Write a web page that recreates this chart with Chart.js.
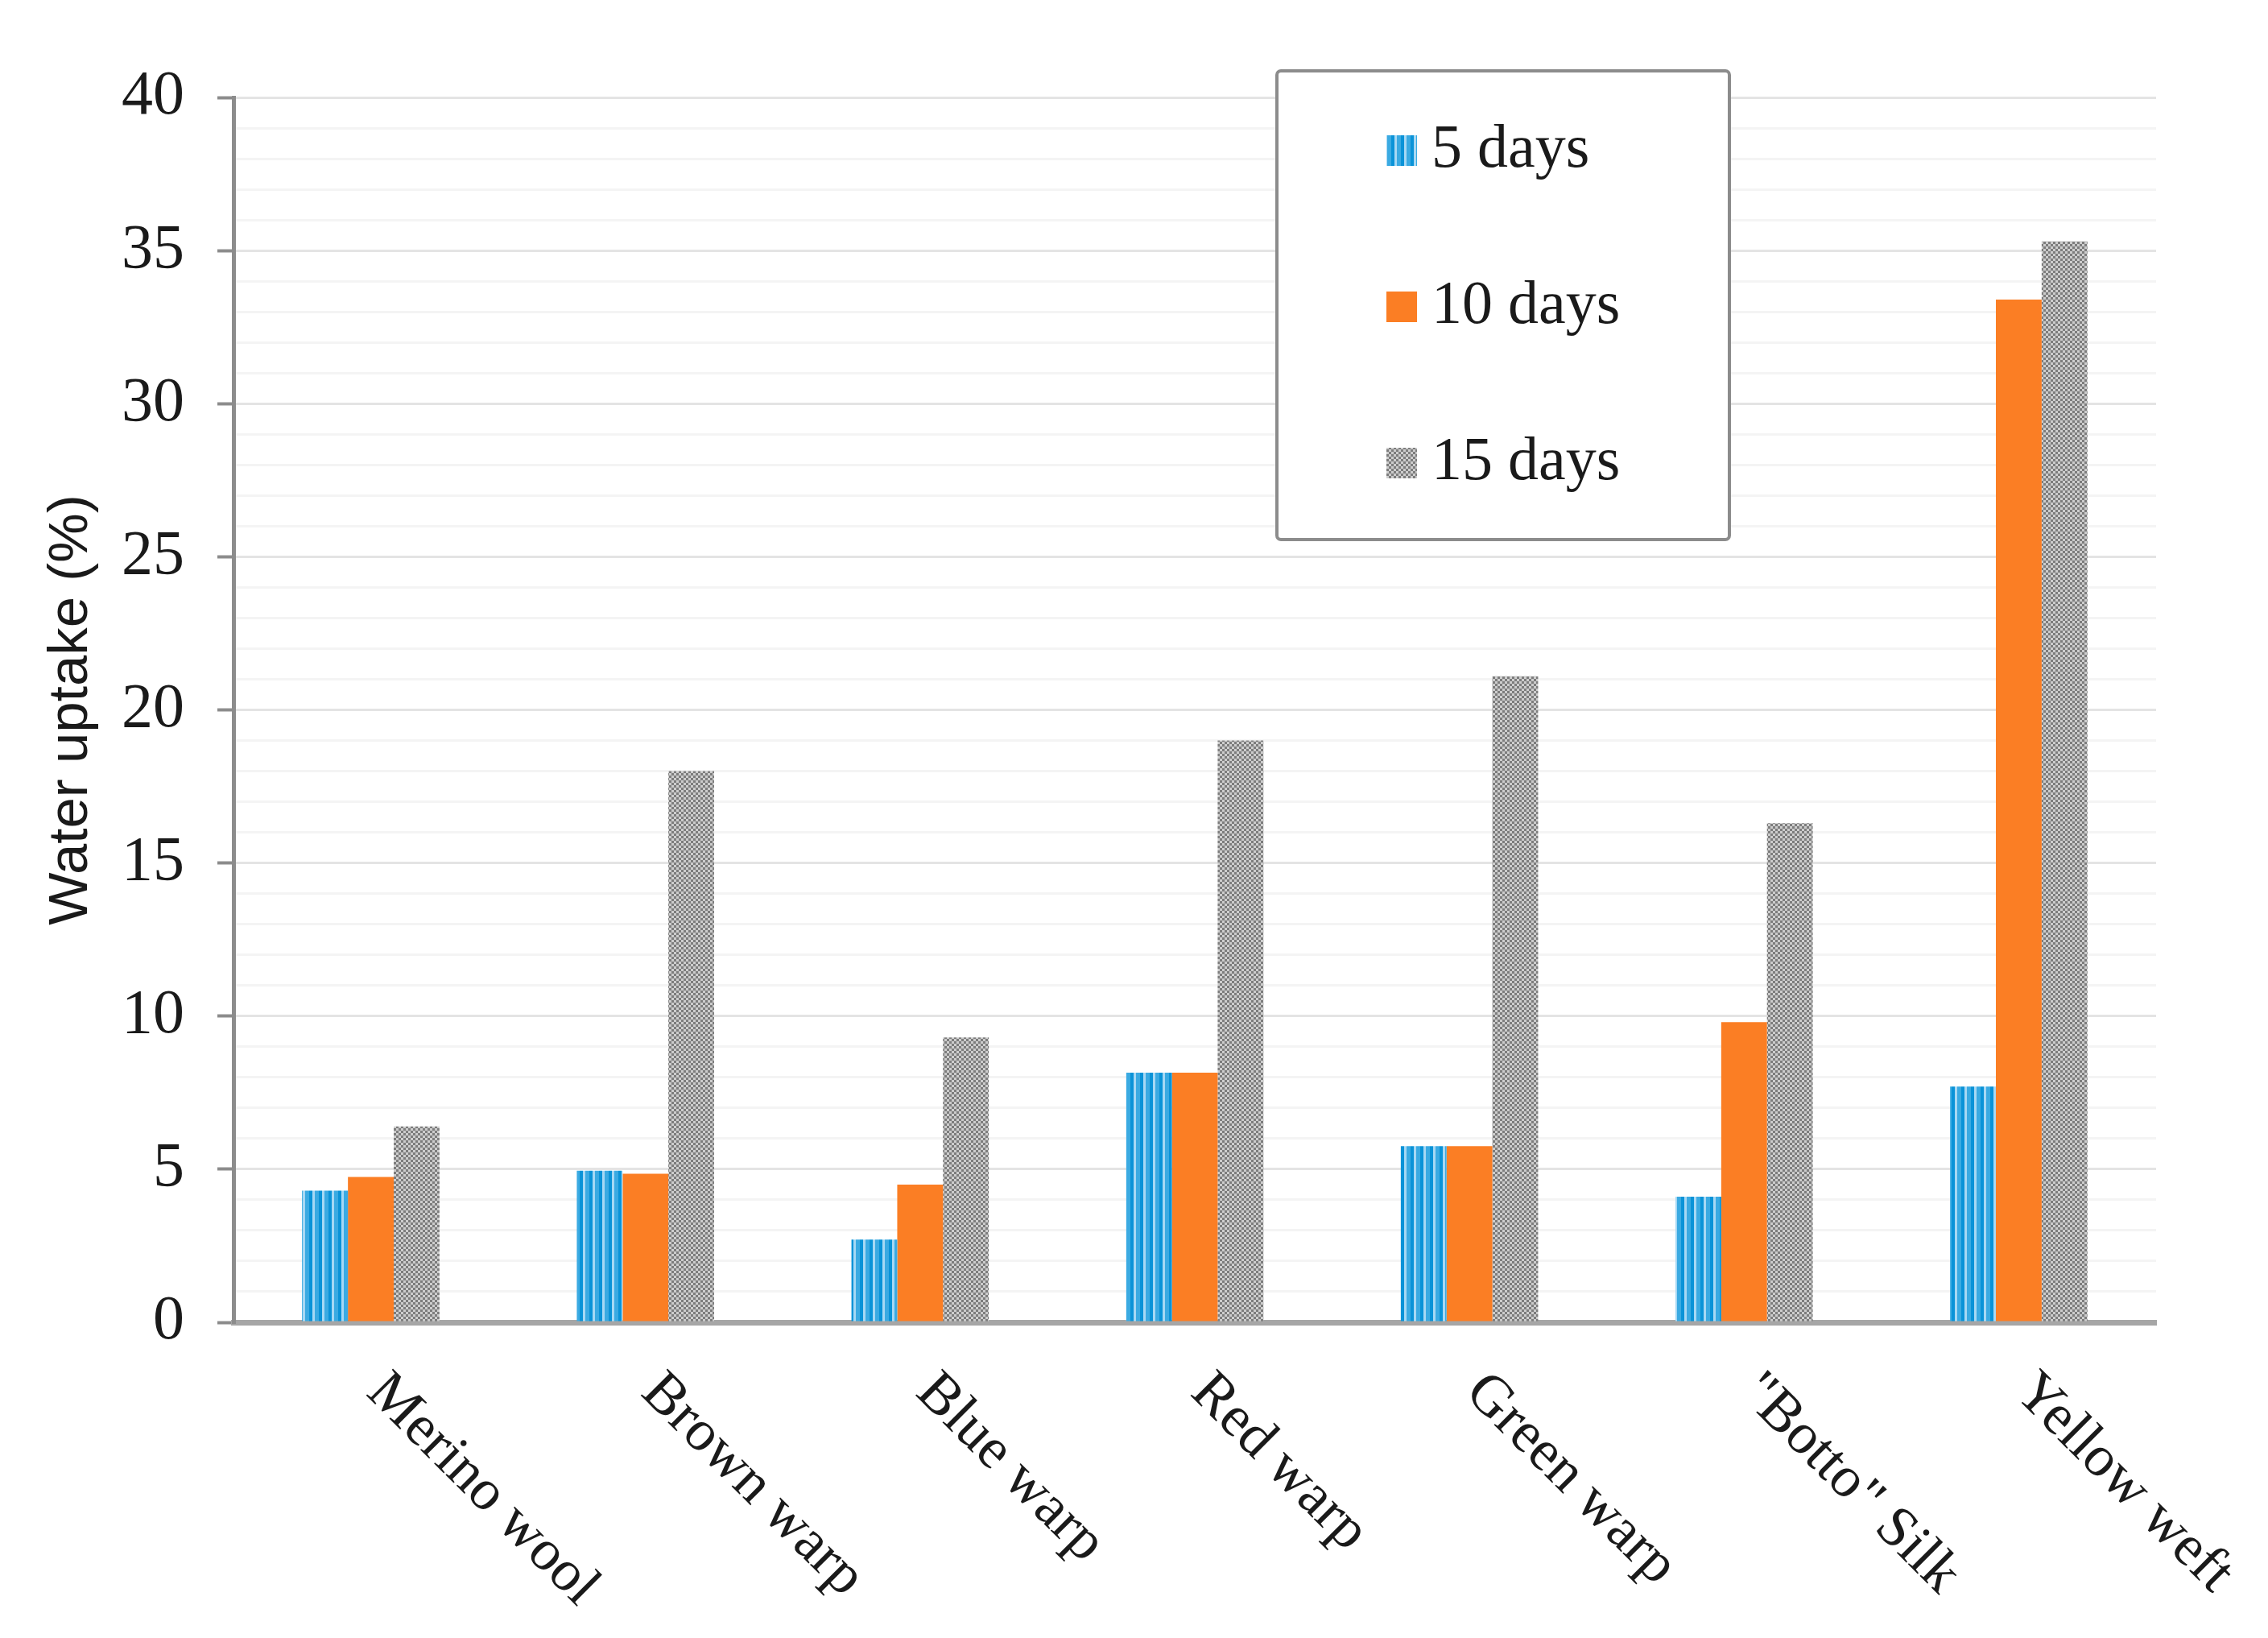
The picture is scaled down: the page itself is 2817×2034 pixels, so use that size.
<!DOCTYPE html>
<html>
<head>
<meta charset="utf-8">
<title>Water uptake</title>
<script src="https://cdn.jsdelivr.net/npm/chart.js@4/dist/chart.umd.min.js"></script>
<style>
  html, body { margin: 0; padding: 0; background: #fff; }
  #wrap { width: 2817px; height: 2034px; position: relative; }
</style>
</head>
<body>
<div id="wrap"><canvas id="chart"></canvas></div>
<script>
// Data
const categories = ['Merino wool', 'Brown warp', 'Blue warp', 'Red warp', 'Green warp', '"Botto" Silk', 'Yellow weft'];
const seriesLabels = ['5 days', '10 days', '15 days'];
const days5 = [4.3, 4.95, 2.7, 8.15, 5.75, 4.1, 7.7];
const days10 = [4.75, 4.85, 4.5, 8.15, 5.75, 9.8, 33.4];
const days15 = [6.4, 18.0, 9.3, 19.0, 21.1, 16.3, 35.3];
const yMin = 0;
const yMax = 40;
const yMajorStep = 5;

const serif = '"Liberation Serif", "Times New Roman", serif';
const sans = '"Liberation Sans", Arial, sans-serif';
const textColor = '#1a1a1a';

// Fill patterns (vertical stripes for 5 days, checker for 15 days)
function stripePattern() {
    const c = document.createElement('canvas');
    c.width = 12; c.height = 4;
    const g = c.getContext('2d');
    g.fillStyle = '#3aaae2';
    g.fillRect(0, 0, 12, 4);
    g.fillStyle = '#0a93d8';
    g.fillRect(0, 0, 4, 4);
    g.fillStyle = '#a6d8f4';
    g.fillRect(4, 0, 3, 4);
    return g.createPattern(c, 'repeat');
}

function checkerPattern() {
    const c = document.createElement('canvas');
    c.width = 6; c.height = 6;
    const g = c.getContext('2d');
    g.fillStyle = '#cdcdcd';
    g.fillRect(0, 0, 6, 6);
    g.fillStyle = '#7d7d7d';
    g.fillRect(0, 0, 3, 3);
    g.fillRect(3, 3, 3, 3);
    return g.createPattern(c, 'repeat');
}

// Rotated category labels, going down to the right from each tick
const categoryLabels = {
    id: 'categoryLabels',
    afterDraw(chart) {
        const { ctx, chartArea } = chart;
        const x = chart.scales.x;
        ctx.save();
        ctx.font = '72px ' + serif;
        ctx.fillStyle = textColor;
        ctx.textAlign = 'left';
        ctx.textBaseline = 'middle';
        categories.forEach((label, i) => {
            ctx.save();
            ctx.translate(x.getPixelForValue(i) + 6, chartArea.bottom + 76);
            ctx.rotate(Math.PI / 4);
            ctx.fillText(label, 0, 0);
            ctx.restore();
        });
        ctx.restore();
    }
};

// Boxed legend inside the plot, items stacked vertically
const boxLegend = {
    id: 'boxLegend',
    afterDraw(chart) {
        const { ctx } = chart;
        const box = { left: 1586, top: 88, right: 2148, bottom: 670 };
        const rowY = [187, 381, 575];
        ctx.save();
        ctx.fillStyle = '#ffffff';
        ctx.strokeStyle = '#8c8c8c';
        ctx.lineWidth = 4;
        ctx.beginPath();
        ctx.roundRect(box.left, box.top, box.right - box.left, box.bottom - box.top, 5);
        ctx.fill();
        ctx.stroke();

        ctx.font = '76px ' + serif;
        ctx.textAlign = 'left';
        ctx.textBaseline = 'middle';
        chart.data.datasets.forEach((ds, i) => {
            ctx.fillStyle = ds.backgroundColor;
            ctx.fillRect(1722, rowY[i] - 19, 38, 38);
            ctx.fillStyle = textColor;
            ctx.fillText(ds.label, 1778, rowY[i]);
        });
        ctx.restore();
    }
};

const isMajor = (v) => v % yMajorStep === 0;

const ctx = document.getElementById('chart').getContext('2d');
new Chart(ctx, {
    type: 'bar',
    data: {
        labels: categories,
        datasets: [
            { label: seriesLabels[0], data: days5, backgroundColor: stripePattern() },
            { label: seriesLabels[1], data: days10, backgroundColor: '#fb7e24' },
            { label: seriesLabels[2], data: days15, backgroundColor: checkerPattern() },
        ],
    },
    options: {
        responsive: true,
        maintainAspectRatio: false,
        animation: false,
        layout: { padding: { left: 40, top: 121, right: 139, bottom: 392 } },
        datasets: { bar: { categoryPercentage: 0.5, barPercentage: 1.0 } },
        plugins: {
            legend: { display: false },
            tooltip: { enabled: false },
        },
        scales: {
            x: {
                z: 1,
                grid: { display: false },
                border: { display: true, color: '#a6a6a6', width: 7 },
                ticks: { display: false },
                afterFit: (s) => { s.height = 0; },
            },
            y: {
                min: yMin,
                max: yMax,
                ticks: {
                    stepSize: 1,
                    autoSkip: false,
                    padding: 41,
                    color: textColor,
                    font: { family: serif, size: 78 },
                    callback: (v) => (isMajor(v) ? v : ''),
                },
                grid: {
                    color: (c) => (isMajor(c.tick.value) ? '#e4e4e4' : '#f4f4f4'),
                    lineWidth: 3,
                    tickColor: (c) => (isMajor(c.tick.value) ? '#8c8c8c' : 'rgba(0,0,0,0)'),
                    tickWidth: 4,
                    tickLength: 20,
                },
                border: { color: '#8c8c8c', width: 5 },
                title: {
                    display: true,
                    text: 'Water uptake (%)',
                    color: textColor,
                    font: { family: sans, size: 69 },
                    padding: { top: 8, bottom: 0 },
                },
                afterFit: (s) => { s.width = 250; },
            },
        },
    },
    plugins: [categoryLabels, boxLegend],
});
</script>
</body>
</html>
